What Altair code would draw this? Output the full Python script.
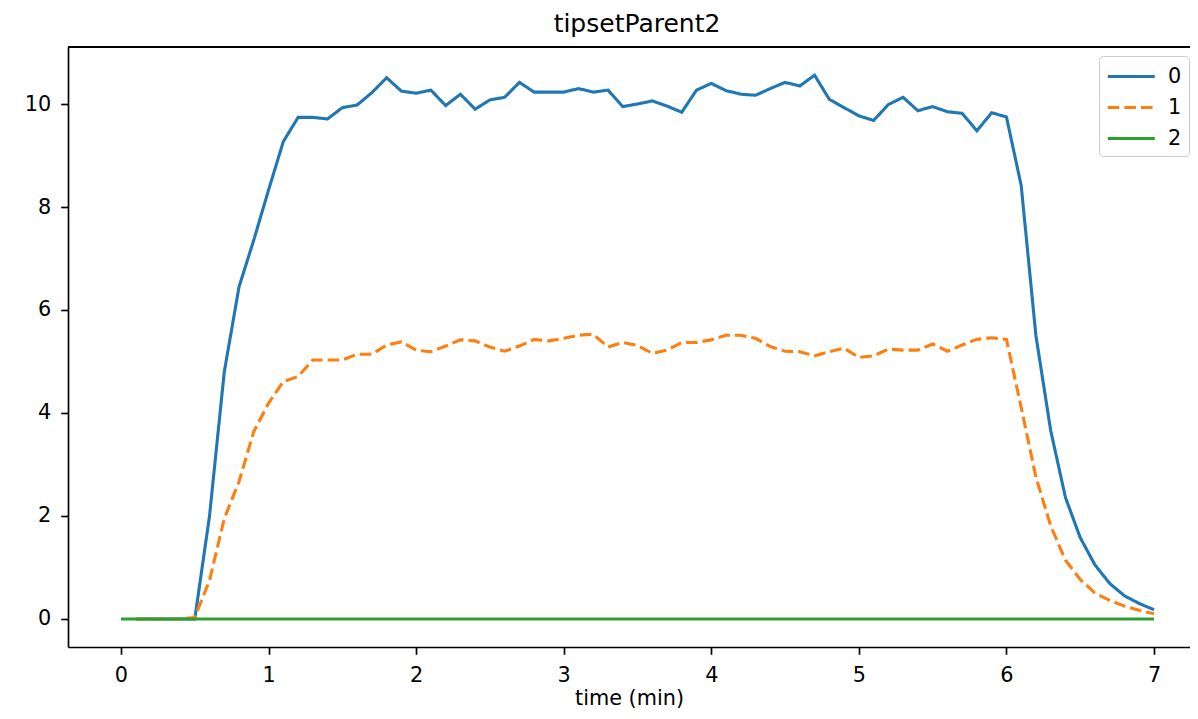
import altair as alt
import pandas as pd

times = [round(0.1 * i, 1) for i in range(71)]

series0 = [0, 0, 0, 0, 0,
           2.0, 4.8, 6.45, 7.36, 8.33,
           9.27, 9.74, 9.74, 9.71, 9.93, 9.98, 10.22, 10.51, 10.25, 10.21,
           10.27, 9.97, 10.19, 9.90, 10.08, 10.13, 10.42, 10.23, 10.23, 10.23,
           10.30, 10.23, 10.27, 9.95, 10.00, 10.06, 9.96, 9.84, 10.27, 10.40,
           10.26, 10.19, 10.17, 10.30, 10.42, 10.35, 10.56, 10.09, 9.93, 9.77,
           9.68, 9.99, 10.13, 9.87, 9.95, 9.85, 9.82, 9.48, 9.83, 9.75,
           8.42, 5.50, 3.66, 2.36, 1.58, 1.05, 0.69, 0.45, 0.30, 0.18]

series1 = [0, 0, 0, 0, 0.03,
           0.75, 1.95, 2.67, 3.64, 4.19,
           4.61, 4.71, 5.03, 5.03, 5.03, 5.14, 5.14, 5.32, 5.38, 5.22,
           5.19, 5.30, 5.42, 5.40, 5.28, 5.20, 5.30, 5.43, 5.40, 5.45,
           5.51, 5.53, 5.28, 5.37, 5.31, 5.16, 5.22, 5.37, 5.37, 5.42,
           5.51, 5.51, 5.45, 5.29, 5.20, 5.19, 5.11, 5.19, 5.26, 5.08,
           5.11, 5.24, 5.22, 5.22, 5.34, 5.20, 5.32, 5.43, 5.46, 5.43,
           4.11, 2.75, 1.81, 1.14, 0.77, 0.50, 0.36, 0.25, 0.17, 0.10]

series2 = [0] * 71

names = ["0", "1", "2"]
colors = ["#1f77b4", "#ff7f0e", "#2ca02c"]
dashes = [[1, 0], [11.6, 5], [1, 0]]

rows = []
for t, v in zip(times[1:], series0):
    rows.append({"t": t, "v": v, "s": "0"})
for t, v in zip(times[1:], series1):
    rows.append({"t": t, "v": v, "s": "1"})
for t, v in zip(times, series2):
    rows.append({"t": t, "v": v, "s": "2"})
df = pd.DataFrame(rows)

W, H = 1122, 600
FONT = "DejaVu Sans"
FS = 20.8

lines = alt.Chart(df).mark_line(strokeWidth=3.1, strokeCap="butt", clip=True).encode(
    x=alt.X("t:Q", title="time (min)",
            scale=alt.Scale(domain=[-0.359, 7.244], nice=False, zero=False),
            axis=alt.Axis(values=list(range(8)), format="d", grid=False,
                          labelPadding=11, titlePadding=3)),
    y=alt.Y("v:Q", title=None,
            scale=alt.Scale(domain=[-0.544, 11.107], nice=False, zero=False),
            axis=alt.Axis(values=[0, 2, 4, 6, 8, 10], format="d", grid=False,
                          labelPadding=10)),
    color=alt.Color("s:N", title=None,
                    scale=alt.Scale(domain=names, range=colors),
                    legend=alt.Legend(orient="none", legendX=1031, legendY=9,
                                      symbolType="M-1,0H3", symbolSize=552,
                                      symbolStrokeWidth=3.1, labelOffset=35,
                                      labelFontSize=FS, labelFont=FONT, labelColor="black",
                                      rowPadding=7, padding=7,
                                      strokeColor="#cccccc", fillColor="white",
                                      cornerRadius=4)),
    strokeDash=alt.StrokeDash("s:N", title=None,
                              scale=alt.Scale(domain=names, range=dashes)),
    order=alt.Order("s:N"),
)

top_spine = alt.Chart(df).mark_rule(color="black", strokeWidth=1.67).encode(
    x=alt.value(0), x2=alt.value(W), y=alt.value(0)
)

chart = alt.layer(lines, top_spine).properties(
    width=W, height=H,
    title=alt.Title("tipsetParent2", font=FONT, fontSize=25, fontWeight="normal",
                    color="black", offset=9, dx=8),
    autosize=alt.AutoSizeParams(type="none"),
    padding={"left": 60, "top": 39, "right": 0, "bottom": 64},
).configure_view(stroke=None).configure_axis(
    labelFont=FONT, labelFontSize=FS, labelColor="black",
    titleFont=FONT, titleFontSize=FS, titleFontWeight="normal", titleColor="black",
    domainColor="black", domainWidth=1.67, tickColor="black", tickWidth=1.67,
    tickSize=7.3,
)

chart.save("out.html", embed_options={"renderer": "svg", "actions": False})
